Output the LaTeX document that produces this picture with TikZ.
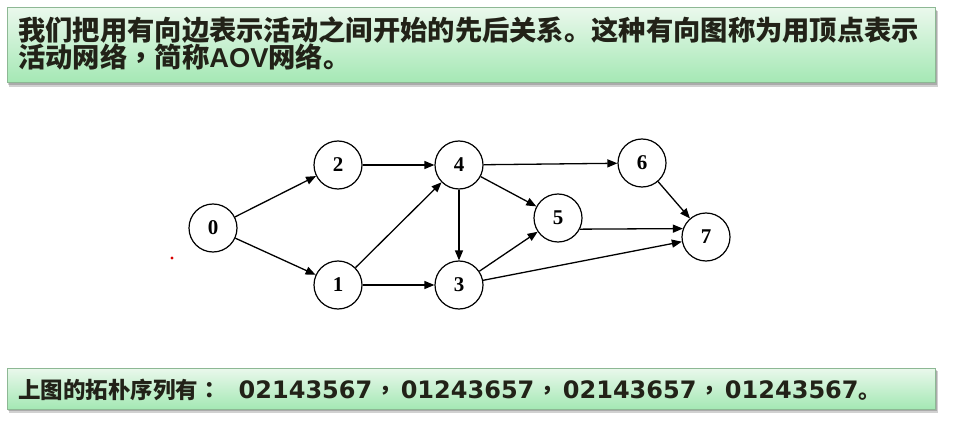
\documentclass[tikz,border=0pt]{standalone}
\usepackage{fontspec}
\newfontfamily\cjk{Noto Sans CJK SC}
\newfontfamily\cjktc{Noto Sans CJK TC}
\newfontfamily\dvs{DejaVu Sans}
\newfontfamily\lsans{Liberation Sans}
\newfontfamily\lserif{Liberation Serif}
\usetikzlibrary{arrows.meta}
\definecolor{boxtop}{HTML}{EAF8EC}
\definecolor{boxbot}{HTML}{A4E8B4}
\definecolor{boxline}{HTML}{8DB894}
\definecolor{txt}{HTML}{222218}
\newcommand{\cpunct}[1]{{\cjktc\bfseries #1}}
\newcommand{\dig}[1]{{\dvs\bfseries\fontsize{24}{24}\selectfont #1}}
\tikzset{
  vtx/.style={circle, draw, line width=1.2pt, minimum size=48pt, inner sep=0pt,
    font=\lserif\bfseries\fontsize{21}{21}\selectfont},
  arc/.style={-{Triangle[length=10pt,width=8pt]}, line width=1.3pt},
  greenbox/.style={top color=boxtop, bottom color=boxbot, draw=boxline, line width=1pt},
  shadowbox/.style={fill=black, opacity=0.18},
  toptext/.style={anchor=base west, inner sep=0pt, text=txt,
    font=\cjk\bfseries\fontsize{27.3}{27.3}\selectfont},
  bottext/.style={anchor=base west, inner sep=0pt, text=txt,
    font=\cjk\bfseries\fontsize{22.5}{22.5}\selectfont}
}
\begin{document}
\begin{tikzpicture}[x=1pt,y=-1pt]
\useasboundingbox[fill=white] (0,0) rectangle (958,422);
% top box
\fill[shadowbox] (9,11) rectangle (938,87);
\fill[shadowbox] (8,10) rectangle (937,85);
\shade[greenbox] (7,8) rectangle (935,83);
\node[toptext] (t1) at (18,41) {我们把用有向边表示活动之间开始的先后关系。这种有向图称为用顶点表示};
\node[toptext] (t2) at (18,67.5) {活动网络\cpunct{，}简称{\lsans\bfseries AOV}网络。};
% bottom box
\fill[shadowbox] (9,371) rectangle (938,413);
\fill[shadowbox] (8,370) rectangle (937,411);
\shade[greenbox] (7,368) rectangle (935,409);
\node[bottext] (b1) at (18,398.5) {上图的拓朴序列有\cpunct{：}\hspace{18pt}\dig{02143567}\hspace{2pt}\cpunct{，}\hspace{4pt}\dig{01243657}\hspace{2pt}\cpunct{，}\hspace{4pt}\dig{02143657}\hspace{2pt}\cpunct{，}\hspace{4pt}\dig{01243567}。};
% graph
\node[vtx] (n0) at (213,228) {0};
\node[vtx] (n2) at (338,165) {2};
\node[vtx] (n4) at (459,165) {4};
\node[vtx] (n1) at (338,285) {1};
\node[vtx] (n3) at (459,285) {3};
\node[vtx] (n5) at (558,218) {5};
\node[vtx] (n6) at (642,163) {6};
\node[vtx] (n7) at (706,237) {7};
\draw[arc] (n0) -- (n2);
\draw[arc] (n0) -- (n1);
\draw[arc] (n2) -- (n4);
\draw[arc] (n1) -- (n4);
\draw[arc] (n1) -- (n3);
\draw[arc] (n4) -- (n3);
\draw[arc] (n4) -- (n6);
\draw[arc] (n4) -- (n5);
\draw[arc] (n3) -- (n5);
\draw[arc] (n3) -- (n7);
\draw[arc] (n5.-27) -- (n7.160);
\draw[arc] (n6) -- (n7);
% stray red mark
\fill[red!85!black] (172,258) circle (1.6);
\end{tikzpicture}
\end{document}
